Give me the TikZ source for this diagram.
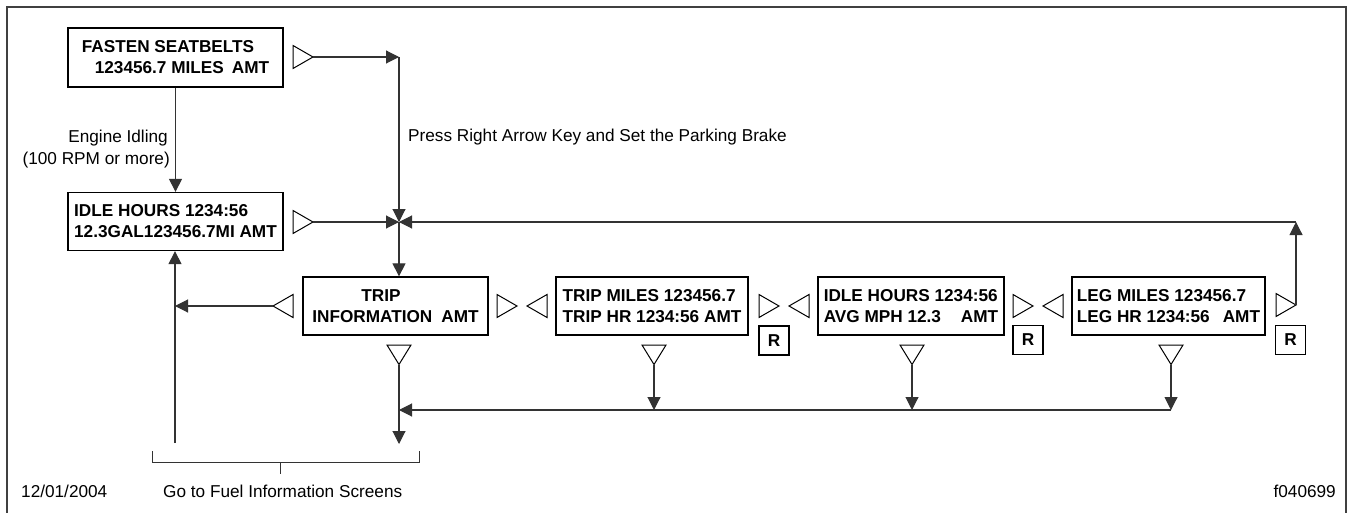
\documentclass[tikz,border=0pt]{standalone}
\usepackage{fontspec}
\setmainfont{Liberation Sans}
\usetikzlibrary{arrows.meta}
\begin{document}
\begin{tikzpicture}[x=1pt,y=-1pt,
  every node/.style={inner sep=0pt},
  scr/.style={draw,line width=1.3pt,align=left,font=\bfseries\fontsize{17.2}{21}\selectfont},
  conn/.style={line width=1.1pt,draw=black!80},
  arr/.style={conn,-{Triangle[length=13pt,width=13pt]}},
  keyshape/.style={draw,line width=1pt,fill=white},
  lbl/.style={font=\fontsize{17.2}{21}\selectfont},
  rbox/.style={draw,line width=1.3pt,minimum width=30pt,minimum height=29pt,font=\bfseries\fontsize{17.2}{17}\selectfont}
]
\useasboundingbox (0,0) rectangle (1351,513);
% frame
\draw[line width=1.2pt,black!75] (7,520) -- (7,7) -- (1346,7) -- (1346,520);

% screens
\node[scr,minimum width=215pt,minimum height=59pt] (fasten) at (175.5,57.5) {FASTEN SEATBELTS\\\hspace*{13pt}123456.7 MILES\hspace{8pt}AMT};
\node[scr,minimum width=215pt,minimum height=58pt] (idle) at (175.5,221.5) {IDLE HOURS 1234:56\\12.3GAL123456.7MI AMT};
\node[scr,minimum width=185pt,minimum height=58pt] (trip) at (395.5,306) {\hspace*{49pt}TRIP\\INFORMATION\hspace{9pt}AMT};
\node[scr,minimum width=192pt,minimum height=58pt] (tm) at (652,306) {TRIP MILES 123456.7\\TRIP HR 1234:56 AMT};
\node[scr,minimum width=186pt,minimum height=58pt] (idle2) at (911,306) {IDLE HOURS 1234:56\\AVG MPH 12.3\hspace{20pt}AMT};
\node[scr,minimum width=193pt,minimum height=58pt] (leg) at (1168.5,306) {LEG MILES 123456.7\\LEG HR 1234:56\hspace{13pt}AMT};

% reset boxes
\node[rbox] (r1) at (774,340.5) {R};
\node[rbox] (r2) at (1028,340) {R};
\node[rbox] (r3) at (1290.5,340) {R};

% right-pointing keys: left x / center y / name
\foreach \a/\c/\n in {293/57/kf,293/222/ki,497/306/kt,759/306/km,1013/306/kd,1276/305/kl}{
  \draw[keyshape] (\a,\c-11.5) -- (\a+20,\c) -- (\a,\c+11.5) -- cycle;
  \coordinate (\n) at (\a+20,\c);
}
% left-pointing keys
\foreach \a/\c/\n in {273/306/lt,527/306/lm,789/306/ld,1043/306/ll}{
  \draw[keyshape] (\a+20,\c-11.5) -- (\a,\c) -- (\a+20,\c+11.5) -- cycle;
  \coordinate (\n) at (\a,\c);
}
% down-pointing keys
\foreach \c/\n in {399/dt,654/dm,912/dd,1171/dl}{
  \draw[keyshape] (\c-12,345) -- (\c+12,345) -- (\c,364.5) -- cycle;
  \coordinate (\n) at (\c,364.5);
}

% junction coordinates
\coordinate (c1) at (399,57);
\coordinate (j) at (399,222);
\coordinate (c2) at (1296,222);
\coordinate (c3) at (175,306);
\coordinate (b0) at (175,443);
\coordinate (b1) at (399,444);
\coordinate (h0) at (399,410);
\coordinate (h1) at (654,410);
\coordinate (h2) at (912,410);
\coordinate (h3) at (1171,410);

% connectors
\draw[arr] (fasten.south) -- (idle.north);
\draw[arr] (kf) -- (c1);
\draw[arr] (c1) -- (j);
\draw[arr] (ki) -- (j);
\draw[arr] (kl) -- (c2);
\draw[arr] (c2) -- (j);
\draw[arr] (j) -- (j |- trip.north);
\draw[arr] (lt) -- (c3);
\draw[arr] (b0) -- (b0 |- idle.south);
\draw[arr] (dt) -- (b1);
\draw[arr] (dm) -- (h1);
\draw[arr] (dd) -- (h2);
\draw[arr] (dl) -- (h3);
\draw[arr] (h3) -- (h0);

% bracket
\coordinate (br1) at (152,451);
\coordinate (br2) at (419,451);
\coordinate (brm) at (280,462);
\draw[conn,line width=1pt] (br1) -- (152,462) -- (419,462) -- (br2);
\draw[conn,line width=1pt] (brm) -- (280,474);

% labels
\node[lbl,anchor=base west] (press) at (408,142) {Press Right Arrow Key and Set the Parking Brake};
\node[lbl,anchor=base east] (eng1) at (168,143) {Engine Idling};
\node[lbl,anchor=base east] (eng2) at (170,165) {(100 RPM or more)};
\node[lbl,anchor=base west] (fuel) at (163,497) {Go to Fuel Information Screens};
\node[lbl,anchor=base west] (date) at (21,497) {12/01/2004};
\node[lbl,anchor=base east] (fig) at (1336,497) {f040699};
\end{tikzpicture}
\end{document}
